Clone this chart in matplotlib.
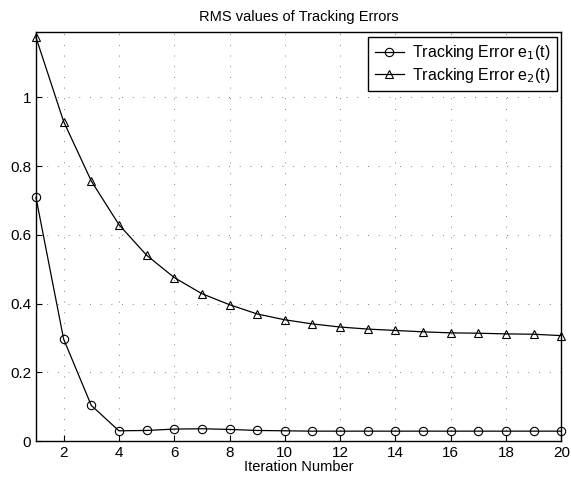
import matplotlib
matplotlib.use('Agg')
import matplotlib.pyplot as plt

iterations = list(range(1, 21))
e1 = [0.709, 0.297, 0.104, 0.030, 0.031, 0.035, 0.036, 0.034, 0.031, 0.030,
      0.029, 0.029, 0.029, 0.029, 0.029, 0.029, 0.029, 0.029, 0.029, 0.029]
e2 = [1.175, 0.930, 0.757, 0.630, 0.541, 0.476, 0.429, 0.397, 0.370, 0.353,
      0.341, 0.332, 0.326, 0.322, 0.318, 0.315, 0.314, 0.312, 0.311, 0.307]
xticks = [2, 4, 6, 8, 10, 12, 14, 16, 18, 20]
yticks = [0, 0.2, 0.4, 0.6, 0.8, 1]

plt.rcParams['font.family'] = ['Liberation Sans', 'DejaVu Sans']

fig = plt.figure(figsize=(5.71, 4.8), dpi=100)
ax = fig.add_axes([0.063, 0.081, 0.920, 0.852])

ax.plot(iterations, e1, color='black', lw=0.9, marker='o', ms=6,
        mfc='none', mec='black', mew=0.8, label='Tracking Error e$_1$(t)', clip_on=False)
ax.plot(iterations, e2, color='black', lw=0.9, marker='^', ms=6,
        mfc='none', mec='black', mew=0.8, label='Tracking Error e$_2$(t)', clip_on=False)

ax.set_xlim(1, 20)
ax.set_ylim(0, 1.19)
ax.set_xticks(xticks)
ax.set_yticks(yticks)
ax.set_yticklabels(['0', '0.2', '0.4', '0.6', '0.8', '1'])
ax.tick_params(direction='in', length=4, labelsize=11, color='black')
ax.grid(True, linestyle=(0, (1, 10)), color='black', lw=0.7, alpha=0.5)
for s in ax.spines.values():
    s.set_linewidth(1.0)

ax.set_title('RMS values of Tracking Errors', fontsize=10.5, pad=8)
ax.set_xlabel('Iteration Number', fontsize=10.5, labelpad=0)

leg = ax.legend(loc='upper right', fontsize=11.5, frameon=True, fancybox=False,
                edgecolor='black', framealpha=1, borderaxespad=0.3,
                handlelength=1.8, handletextpad=0.5, labelspacing=0.2)
leg.get_frame().set_linewidth(1.0)

fig.savefig('out.png', dpi=100)
